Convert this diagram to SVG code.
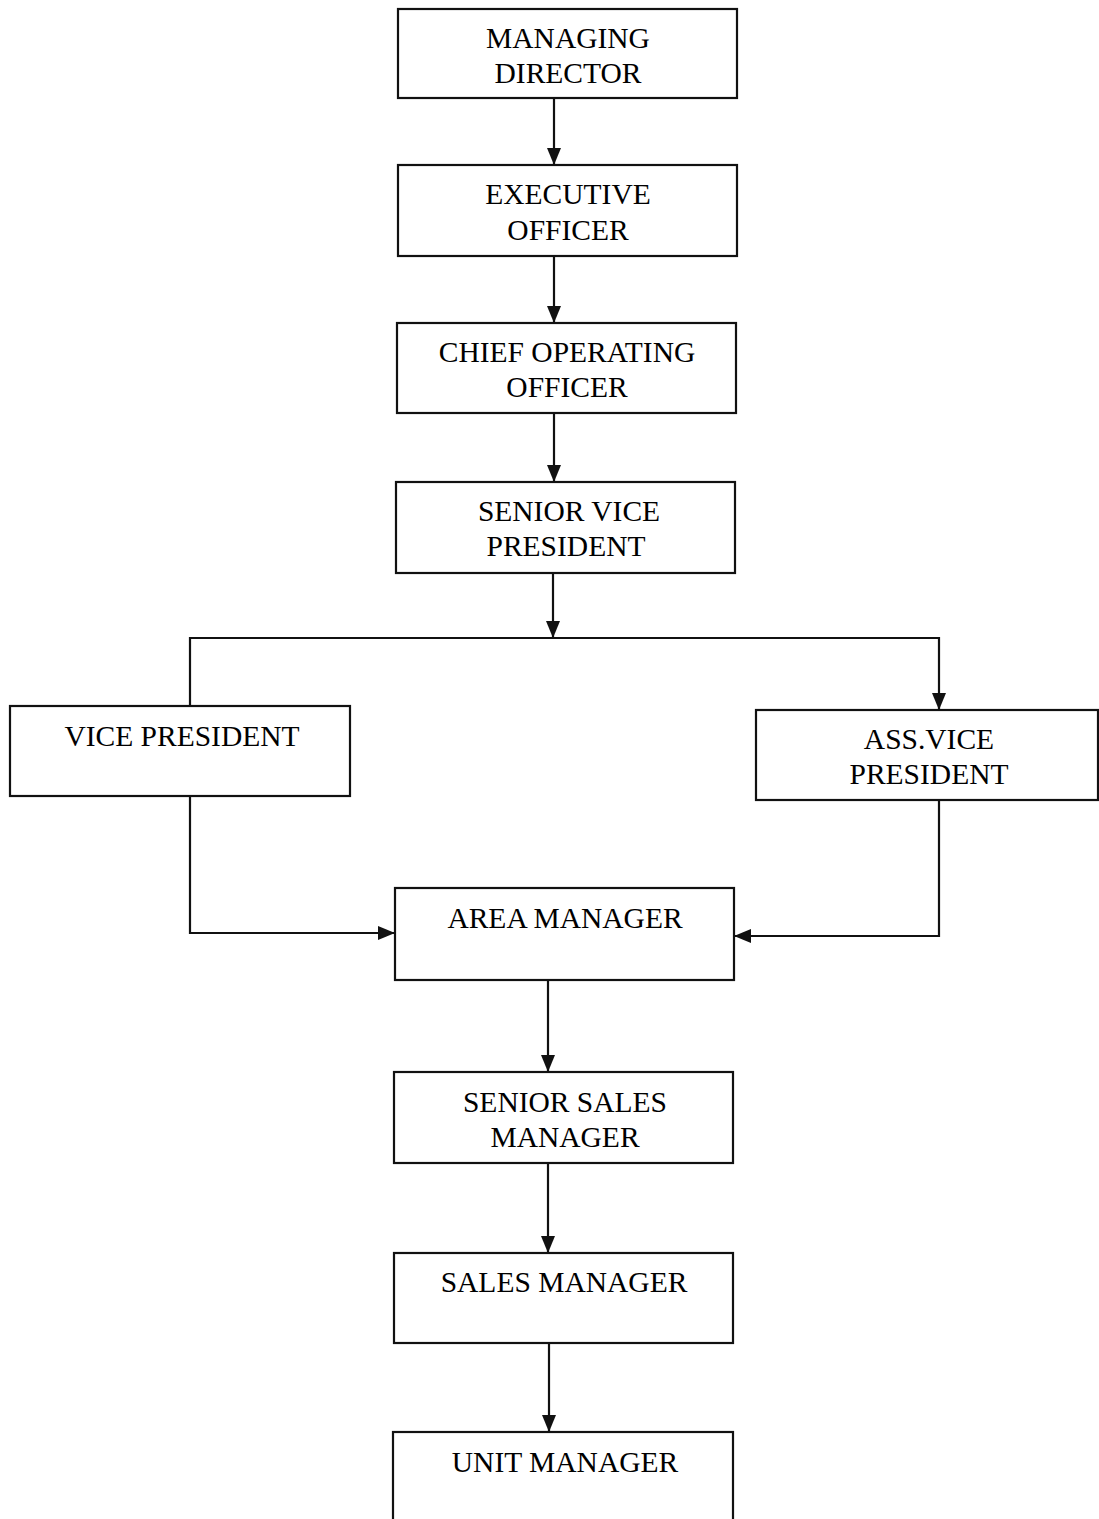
<svg xmlns="http://www.w3.org/2000/svg" width="1099" height="1519" viewBox="0 0 1099 1519">
<defs>
<style>
.box{fill:#fff;stroke:#111;stroke-width:2.2}
.t{font-family:"Liberation Serif","Times New Roman",serif;font-size:29.5px;fill:#000;text-anchor:middle}
.c{fill:none;stroke:#111;stroke-width:2.2}
</style>
<marker id="ah" viewBox="0 0 17 14" refX="17" refY="7" markerWidth="17" markerHeight="14" markerUnits="userSpaceOnUse" orient="auto">
<path d="M0,0 L17,7 L0,14 Z" fill="#111"/>
</marker>
</defs>
<rect width="1099" height="1519" fill="#fff"/>
<g id="connectors">
<line class="c" x1="554" y1="98" x2="554" y2="165" marker-end="url(#ah)"/>
<line class="c" x1="554" y1="256" x2="554" y2="323" marker-end="url(#ah)"/>
<line class="c" x1="554" y1="413" x2="554" y2="482" marker-end="url(#ah)"/>
<line class="c" x1="553" y1="573" x2="553" y2="638" marker-end="url(#ah)"/>
<polyline class="c" points="190,706 190,638 939,638 939,710" marker-end="url(#ah)"/>
<polyline class="c" points="190,796 190,933 395,933" marker-end="url(#ah)"/>
<polyline class="c" points="939,800 939,936 734,936" marker-end="url(#ah)"/>
<line class="c" x1="548" y1="980" x2="548" y2="1072" marker-end="url(#ah)"/>
<line class="c" x1="548" y1="1163" x2="548" y2="1253" marker-end="url(#ah)"/>
<line class="c" x1="549" y1="1343" x2="549" y2="1432" marker-end="url(#ah)"/>
</g>
<g id="managing-director">
<rect class="box" x="398" y="9" width="339" height="89"/>
<text class="t" x="568" y="48">MANAGING</text>
<text class="t" x="568" y="83">DIRECTOR</text>
</g>
<g id="executive-officer">
<rect class="box" x="398" y="165" width="339" height="91"/>
<text class="t" x="568" y="204">EXECUTIVE</text>
<text class="t" x="568" y="240">OFFICER</text>
</g>
<g id="chief-operating-officer">
<rect class="box" x="397" y="323" width="339" height="90"/>
<text class="t" x="567" y="362">CHIEF OPERATING</text>
<text class="t" x="567" y="397">OFFICER</text>
</g>
<g id="senior-vice-president">
<rect class="box" x="396" y="482" width="339" height="91"/>
<text class="t" x="569" y="521">SENIOR VICE</text>
<text class="t" x="566" y="556">PRESIDENT</text>
</g>
<g id="vice-president">
<rect class="box" x="10" y="706" width="340" height="90"/>
<text class="t" x="182" y="746">VICE PRESIDENT</text>
</g>
<g id="ass-vice-president">
<rect class="box" x="756" y="710" width="342" height="90"/>
<text class="t" x="929" y="749">ASS.VICE</text>
<text class="t" x="929" y="784">PRESIDENT</text>
</g>
<g id="area-manager">
<rect class="box" x="395" y="888" width="339" height="92"/>
<text class="t" x="565" y="928">AREA MANAGER</text>
</g>
<g id="senior-sales-manager">
<rect class="box" x="394" y="1072" width="339" height="91"/>
<text class="t" x="565" y="1112">SENIOR SALES</text>
<text class="t" x="565" y="1147">MANAGER</text>
</g>
<g id="sales-manager">
<rect class="box" x="394" y="1253" width="339" height="90"/>
<text class="t" x="564" y="1292">SALES MANAGER</text>
</g>
<g id="unit-manager">
<rect class="box" x="393" y="1432" width="340" height="100"/>
<text class="t" x="565" y="1472">UNIT MANAGER</text>
</g>
</svg>
